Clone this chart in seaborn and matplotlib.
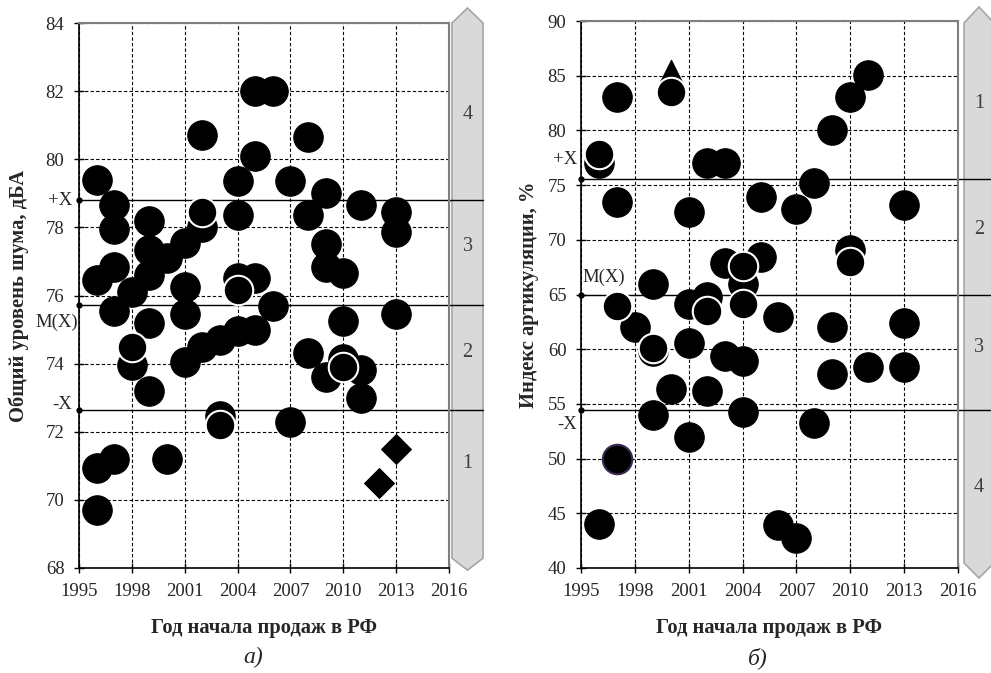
import numpy as np
import pandas as pd
import matplotlib
matplotlib.use("Agg")
import matplotlib.pyplot as plt
import seaborn as sns
from matplotlib.patches import Polygon
import matplotlib.transforms as mtransforms

sns.set_theme(style="white")
plt.rcParams['font.family'] = ['Liberation Serif', 'DejaVu Serif']

# ---------------- data: (а) noise level ----------------
noise_years = [1996, 1996, 1996, 1996,
               1997, 1997, 1997, 1997, 1997,
               1998, 1998,
               1999, 1999, 1999, 1999, 1999,
               2000, 2000,
               2001, 2001, 2001, 2001,
               2002, 2002, 2002,
               2003, 2003,
               2004, 2004, 2004, 2004,
               2005, 2005, 2005, 2005,
               2006, 2006,
               2007, 2007,
               2008, 2008, 2008,
               2009, 2009, 2009, 2009,
               2010, 2010, 2010,
               2011, 2011, 2011,
               2013, 2013, 2013]
noise_values = [79.4, 76.45, 70.95, 69.7,
                78.65, 77.95, 76.85, 75.55, 71.2,
                76.1, 73.95,
                78.2, 77.35, 76.6, 75.2, 73.2,
                77.1, 71.2,
                77.55, 76.25, 75.45, 74.05,
                80.7, 78.0, 74.5,
                74.7, 72.45,
                79.35, 78.35, 76.5, 74.95,
                82.0, 80.1, 76.5, 75.0,
                82.0, 75.7,
                79.35, 72.3,
                80.65, 78.35, 74.3,
                79.0, 77.5, 76.85, 73.6,
                76.65, 75.25, 74.15,
                78.65, 73.8, 73.0,
                78.45, 77.85, 75.45]
# circles drawn on top of others (white rim)
noise_top_years = [1998, 2002, 2004, 2003, 2010]
noise_top_values = [74.5, 78.45, 76.15, 72.2, 73.9]
noise_diamond_years = [2012, 2013]
noise_diamond_values = [70.5, 71.5]
noise_refs = [78.8, 75.72, 72.64]
noise_ref_labels = ["+X", "M(X)", "-X"]
noise_zone_labels = ["4", "3", "2", "1"]
noise_zone_pos = [81.3, 77.45, 74.34, 71.08]

# ---------------- data: (б) articulation index ----------------
artic_years = [1996, 1996,
               1997, 1997,
               1998,
               1999, 1999, 1999,
               2000,
               2001, 2001, 2001, 2001,
               2002, 2002, 2002,
               2003, 2003, 2003,
               2004, 2004, 2004,
               2005, 2005,
               2006, 2006,
               2007, 2007,
               2008, 2008,
               2009, 2009, 2009,
               2010, 2010,
               2011, 2011,
               2013, 2013, 2013]
artic_values = [77.0, 44.0,
                83.05, 73.5,
                62.0,
                66.0, 59.8, 54.0,
                56.35,
                72.5, 64.15, 60.55, 52.0,
                77.0, 64.8, 56.2,
                77.05, 67.85, 59.35,
                65.95, 58.95, 54.3,
                73.95, 68.45,
                62.95, 43.9,
                72.85, 42.7,
                75.15, 53.25,
                80.0, 62.05, 57.75,
                83.05, 69.05,
                85.05, 58.4,
                73.15, 62.4, 58.35]
artic_top_years = [1996, 2000, 2004, 2004, 1997, 2010, 1999, 2002]
artic_top_values = [77.8, 83.5, 67.6, 64.15, 63.95, 68.0, 60.1, 63.45]
artic_purple_years = [1997]
artic_purple_values = [50.0]
artic_triangle_years = [2000]
artic_triangle_values = [85.4]
artic_refs = [75.6, 65.0, 54.45]
artic_ref_labels = ["+X", "M(X)", "-X"]
artic_zone_labels = ["1", "2", "3", "4"]
artic_zone_pos = [82.48, 70.98, 60.2, 47.4]

x_ticks = list(range(1995, 2017, 3))

fig = plt.figure(figsize=(9.91, 6.73), dpi=100)
axL = fig.add_axes([79/991, 1-568/673, 370/991, 545/673])
axR = fig.add_axes([581/991, 1-568/673, 377/991, 547/673])

CIRCLE_S = 450
FS = 13.5
LABEL_FS = 14.8


def style_axes(ax, ylim, yticks):
    ax.set_xlim(1995, 2016)
    ax.set_ylim(*ylim)
    ax.set_xticks(x_ticks)
    ax.set_yticks(yticks)
    ax.set_axisbelow(True)
    ax.grid(True, linestyle=(0, (3, 2)), color='black', linewidth=0.8)
    for side in ['left', 'bottom']:
        ax.spines[side].set_color('black')
        ax.spines[side].set_linewidth(1.2)
    for side in ['top', 'right']:
        ax.spines[side].set_color('#7f7f7f')
        ax.spines[side].set_linewidth(1.5)
    ax.tick_params(direction='inout', length=7, width=1, color='black',
                   labelsize=FS, pad=7, bottom=True, left=True)
    ax.set_facecolor('white')


def draw_bar(ax, x0, x1, ytip_top, ysh_top, ysh_bot, ytip_bot):
    xc = (x0 + x1) / 2
    verts = [(x0, ysh_bot), (x0, ysh_top), (xc, ytip_top), (x1, ysh_top),
             (x1, ysh_bot), (xc, ytip_bot)]
    poly = Polygon(verts, closed=True, transform=ax.transAxes, clip_on=False,
                   facecolor='#d9d9d9', edgecolor='#a6a6a6', linewidth=1.2,
                   zorder=1)
    ax.add_patch(poly)
    return xc


# ---- left panel ----
ax = axL
style_axes(ax, (68, 84), list(range(68, 85, 2)))
xc = draw_bar(ax, 1.008, 1.092, 1.0275, 1.0, 0.018, -0.004)
for r in noise_refs:
    ax.axhline(r, xmin=0, xmax=1.092, color='black', lw=1.0, clip_on=False, zorder=2)
    ax.plot([1995], [r], 'o', color='black', ms=3.5, clip_on=False, zorder=4)
sns.scatterplot(x=noise_years, y=noise_values, ax=ax, color='black', s=CIRCLE_S,
                edgecolor='black', linewidth=0.8, marker='o', zorder=3, legend=False)
sns.scatterplot(x=noise_top_years, y=noise_top_values, ax=ax, color='black', s=CIRCLE_S,
                edgecolor='white', linewidth=1.5, marker='o', zorder=3.5, legend=False)
sns.scatterplot(x=noise_diamond_years, y=noise_diamond_values, ax=ax, color='black', s=230,
                edgecolor='black', linewidth=0.8, marker='D', zorder=3, legend=False)
blend = mtransforms.blended_transform_factory(ax.transAxes, ax.transData)
for lab, pos in zip(noise_zone_labels, noise_zone_pos):
    ax.text(xc, pos, lab, transform=blend, ha='center', va='center',
            fontsize=14.5, color='#404040', zorder=5)
# reference labels
ax.text(-0.018, noise_refs[0], noise_ref_labels[0], transform=blend, ha='right',
        va='center', fontsize=FS)
ax.text(-0.003, noise_refs[1] - 0.5, noise_ref_labels[1], transform=blend, ha='right',
        va='center', fontsize=FS)
ax.text(-0.018, noise_refs[2] + 0.15, noise_ref_labels[2], transform=blend, ha='right',
        va='center', fontsize=FS)
ax.set_xlabel("Год начала продаж в РФ", fontsize=LABEL_FS, fontweight='bold')
ax.set_ylabel("Общий уровень шума, дБА", fontsize=LABEL_FS, fontweight='bold')
ax.xaxis.set_label_coords(0.5, -0.091)
ax.yaxis.set_label_coords(-0.135, 0.5)
ax.text(0.47, -0.165, "а)", transform=ax.transAxes, ha='center', va='center',
        fontsize=17, style='italic')

# ---- right panel ----
ax = axR
style_axes(ax, (40, 90), list(range(40, 91, 5)))
xc = draw_bar(ax, 1.016, 1.0955, 1.0256, 0.9963, 0.0091, -0.0183)
for r in artic_refs:
    ax.axhline(r, xmin=0, xmax=1.12, color='black', lw=1.0, clip_on=False, zorder=2)
    ax.plot([1995], [r], 'o', color='black', ms=3.5, clip_on=False, zorder=4)
sns.scatterplot(x=artic_triangle_years, y=artic_triangle_values, ax=ax, color='black',
                s=260, edgecolor='black', linewidth=0.8, marker='^', zorder=2.8, legend=False)
sns.scatterplot(x=artic_years, y=artic_values, ax=ax, color='black', s=CIRCLE_S,
                edgecolor='black', linewidth=0.8, marker='o', zorder=3, legend=False)
sns.scatterplot(x=artic_top_years, y=artic_top_values, ax=ax, color='black', s=CIRCLE_S,
                edgecolor='white', linewidth=1.5, marker='o', zorder=3.5, legend=False)
sns.scatterplot(x=artic_purple_years, y=artic_purple_values, ax=ax, color='black', s=CIRCLE_S,
                edgecolor='#3a2a55', linewidth=1.5, marker='o', zorder=3.5, legend=False)
blend = mtransforms.blended_transform_factory(ax.transAxes, ax.transData)
for lab, pos in zip(artic_zone_labels, artic_zone_pos):
    ax.text(xc, pos, lab, transform=blend, ha='center', va='center',
            fontsize=14.5, color='#404040', zorder=5)
ax.text(-0.01, artic_refs[0] + 1.7, artic_ref_labels[0], transform=blend, ha='right',
        va='center', fontsize=FS)
ax.text(0.005, artic_refs[1] + 1.6, artic_ref_labels[1], transform=blend, ha='left',
        va='center', fontsize=FS)
ax.text(-0.01, artic_refs[2] - 1.3, artic_ref_labels[2], transform=blend, ha='right',
        va='center', fontsize=FS)
ax.set_xlabel("Год начала продаж в РФ", fontsize=LABEL_FS, fontweight='bold')
ax.set_ylabel("Индекс артикуляции, %", fontsize=LABEL_FS, fontweight='bold')
ax.xaxis.set_label_coords(0.5, -0.091)
ax.yaxis.set_label_coords(-0.111, 0.5)
ax.text(0.47, -0.165, "б)", transform=ax.transAxes, ha='center', va='center',
        fontsize=17, style='italic')

fig.savefig("out.png", dpi=100)
